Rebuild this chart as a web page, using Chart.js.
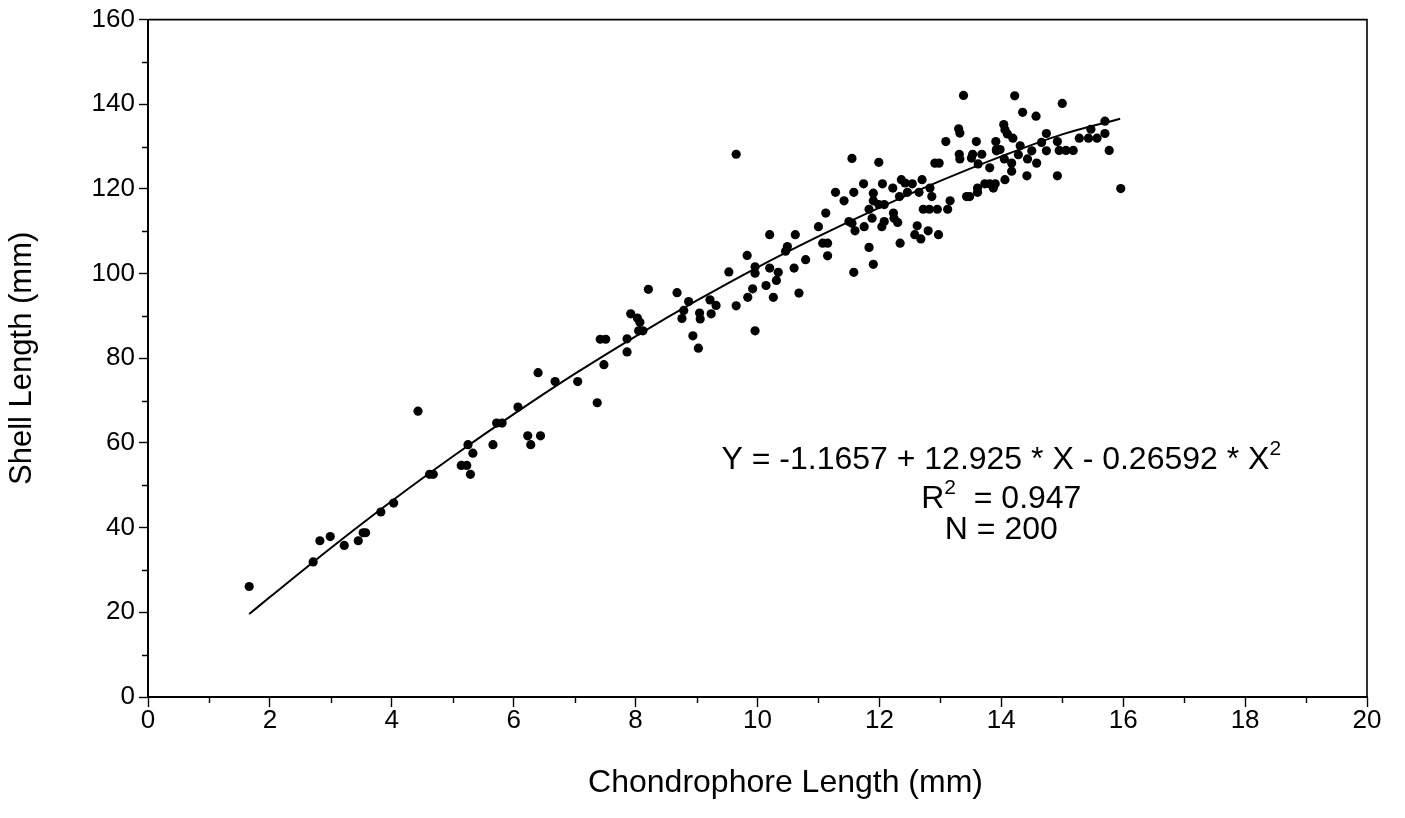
<!DOCTYPE html>
<html>
<head>
<meta charset="utf-8">
<script src="https://cdn.jsdelivr.net/npm/chart.js@4.4.1/dist/chart.umd.min.js"></script>
<style>
  html, body { margin: 0; padding: 0; background: #fff; }
  #wrap { width: 1405px; height: 818px; position: relative; }
</style>
</head>
<body>
<div id="wrap"><canvas id="c" width="1405" height="818"></canvas></div>
<script>
// ---- data ----
const chondrophoreX = [
  1.66, 2.71, 2.82, 2.99, 3.22, 3.45, 3.53, 3.57, 3.82, 4.03,
  4.43, 4.62, 4.68, 5.14, 5.23, 5.25, 5.29, 5.33, 5.66, 5.72,
  5.81, 6.07, 6.23, 6.44, 6.28, 6.40, 6.68, 7.05, 7.37, 7.48,
  7.42, 7.51, 7.86, 7.86, 7.92, 8.03, 8.07, 8.05, 8.12, 8.21,
  8.68, 8.76, 8.79, 8.87, 8.94, 9.03, 9.05, 9.06, 9.22, 9.24,
  9.32, 9.53, 9.65, 9.65, 9.83, 9.84, 9.92, 9.96, 9.96, 9.96,
  10.14, 10.20, 10.20, 10.26, 10.31, 10.34, 10.46, 10.49, 10.60, 10.62,
  10.68, 10.79, 11.00, 11.07, 11.15, 11.15, 11.12, 11.28, 11.42, 11.50,
  11.55, 11.55, 11.58, 11.60, 11.58, 11.74, 11.75, 11.83, 11.83, 11.90,
  11.90, 11.90, 11.88, 11.99, 12.05, 12.04, 11.99, 12.08, 12.08, 12.22,
  12.23, 12.24, 12.30, 12.34, 12.33, 12.36, 12.42, 12.46, 12.54, 12.62,
  12.58, 12.65, 12.68, 12.70, 12.72, 12.82, 12.95, 12.80, 12.83, 12.86,
  12.97, 12.91, 12.98, 13.12, 13.16, 13.31, 13.32, 13.43, 13.48, 13.51,
  13.53, 13.61, 13.61, 13.68, 13.62, 13.73, 13.81, 13.90, 13.87, 13.81,
  13.92, 14.05, 14.06, 14.17, 14.17, 14.28, 14.43, 14.42, 14.50, 14.58,
  14.74, 14.22, 14.35, 14.57, 15.00, 14.04, 14.06, 14.10, 14.19, 13.98,
  14.31, 14.66, 14.74, 14.92, 14.92, 14.95, 15.06, 15.18, 15.28, 15.43,
  15.57, 15.47, 15.70, 15.70, 15.77, 15.96, 13.38, 13.30, 13.32, 13.09,
  13.59, 13.91, 13.92
];
const shellY = [
  26.1, 31.9, 36.9, 37.9, 35.8, 36.9, 38.8, 38.8, 43.7, 45.8,
  67.5, 52.6, 52.6, 54.7, 54.7, 59.6, 52.6, 57.6, 59.6, 64.7,
  64.7, 68.5, 61.7, 61.7, 59.6, 76.6, 74.5, 74.5, 69.5, 78.5,
  84.5, 84.5, 81.5, 84.6, 90.5, 89.5, 88.5, 86.5, 86.5, 96.3,
  95.5, 89.4, 91.3, 93.4, 85.3, 82.4, 90.7, 89.3, 93.8, 90.5,
  92.5, 100.4, 92.4, 128.2, 104.3, 94.4, 96.4, 101.6, 100.1, 86.5,
  97.2, 101.3, 109.2, 94.4, 98.4, 100.3, 105.3, 106.4, 101.3, 109.2,
  95.4, 103.3, 111.1, 107.2, 107.2, 104.2, 114.3, 119.2, 117.2, 112.3,
  111.9, 127.2, 119.2, 110.1, 100.3, 121.2, 111.1, 106.2, 115.2, 119.0,
  117.2, 102.2, 113.1, 126.3, 121.2, 111.1, 116.3, 116.3, 112.3, 120.2,
  114.3, 113.1, 112.1, 107.2, 118.2, 122.2, 121.4, 119.2, 121.2, 111.3,
  109.2, 119.2, 108.2, 122.2, 115.2, 115.2, 115.2, 110.1, 120.2, 118.2,
  109.2, 126.1, 126.1, 115.2, 117.2, 128.2, 127.1, 118.2, 118.2, 127.3,
  128.2, 120.2, 119.2, 128.2, 125.9, 121.2, 121.2, 121.2, 120.2, 125.0,
  129.0, 127.1, 122.2, 124.2, 126.1, 128.1, 127.1, 123.1, 129.0, 126.1,
  129.0, 142.0, 138.1, 137.2, 140.2, 135.2, 134.0, 133.0, 132.0, 129.3,
  130.2, 131.0, 133.1, 123.1, 131.2, 129.1, 129.1, 129.1, 132.0, 132.0,
  132.0, 134.1, 136.0, 133.1, 129.1, 120.1, 142.1, 134.2, 133.2, 131.2,
  131.2, 131.2, 129.3
];
// fitted curve, sampled along the drawn line
const fitX = [1.66, 2, 3, 4, 5, 6, 7, 8, 9, 10, 11, 12, 13, 14, 15, 15.95];
const fitY = [19.6, 23.6, 35.2, 46.3, 56.8, 66.8, 76.3, 85.2, 93.6, 101.5, 108.8, 115.6, 121.9, 127.7, 132.9, 136.6];

const xMajor = [0, 2, 4, 6, 8, 10, 12, 14, 16, 18, 20];
const xMinor = [1, 3, 5, 7, 9, 11, 13, 15, 17, 19];
const yMajor = [0, 20, 40, 60, 80, 100, 120, 140, 160];
const yMinor = [10, 30, 50, 70, 90, 110, 130, 150];

const xTitle = 'Chondrophore Length (mm)';
const yTitle = 'Shell Length (mm)';
const eqText = 'Y = -1.1657 + 12.925 * X - 0.26592 * X';
const r2Text = '  = 0.947';
const nText = 'N = 200';

const FONT = '"Liberation Sans", Arial, Helvetica, sans-serif';

const scatterPts = chondrophoreX.map((x, i) => ({ x: x, y: shellY[i] }));
const fitPts = fitX.map((x, i) => ({ x: x, y: fitY[i] }));

const extras = {
  id: 'extras',
  afterDraw(chart) {
    const { ctx, chartArea: a, scales: { x, y } } = chart;
    ctx.save();
    ctx.strokeStyle = '#000';
    ctx.lineWidth = 1.6;
    ctx.beginPath();
    ctx.moveTo(a.left, a.top);
    ctx.lineTo(a.right, a.top);
    ctx.lineTo(a.right, a.bottom);
    ctx.stroke();
    ctx.lineWidth = 1.4;
    ctx.beginPath();
    xMinor.forEach(v => {
      const px = Math.round(x.getPixelForValue(v)) + 0.5;
      ctx.moveTo(px, a.bottom); ctx.lineTo(px, a.bottom + 6);
    });
    yMinor.forEach(v => {
      const py = Math.round(y.getPixelForValue(v)) + 0.5;
      ctx.moveTo(a.left, py); ctx.lineTo(a.left - 6, py);
    });
    ctx.stroke();

    // x-axis title (sits right of centre in the reference)
    ctx.fillStyle = '#000';
    ctx.font = '32px ' + FONT;
    ctx.textAlign = 'center';
    ctx.textBaseline = 'middle';
    ctx.fillText(xTitle, a.left + (a.right - a.left) * 0.523, a.bottom + 86);

    // regression annotation
    ctx.textBaseline = 'alphabetic';
    const cx = x.getPixelForValue(14.0);
    const big = '32px ' + FONT, small = '21px ' + FONT;
    function drawSup(parts, baseY) {
      let total = 0;
      parts.forEach(p => { ctx.font = p.sup ? small : big; p.w = ctx.measureText(p.t).width; total += p.w; });
      let xx = cx - total / 2;
      parts.forEach(p => {
        ctx.font = p.sup ? small : big;
        ctx.textAlign = 'left';
        ctx.fillText(p.t, xx, p.sup ? baseY - 14 : baseY);
        xx += p.w;
      });
    }
    drawSup([{ t: eqText }, { t: '2', sup: true }], y.getPixelForValue(53.8));
    drawSup([{ t: 'R' }, { t: '2', sup: true }, { t: r2Text }], y.getPixelForValue(44.6));
    drawSup([{ t: nText }], y.getPixelForValue(37.4));
    ctx.restore();
  }
};

new Chart(document.getElementById('c'), {
  type: 'scatter',
  data: {
    datasets: [
      {
        label: 'data',
        data: scatterPts,
        backgroundColor: '#000',
        borderWidth: 0,
        pointRadius: 4.6,
        pointHoverRadius: 4.6
      },
      {
        label: 'fit',
        type: 'line',
        data: fitPts,
        borderColor: '#000',
        borderWidth: 2,
        pointRadius: 0,
        fill: false,
        cubicInterpolationMode: 'monotone'
      }
    ]
  },
  options: {
    responsive: false,
    animation: false,
    events: [],
    layout: { padding: { left: 0, top: 17, right: 38, bottom: 15 } },
    plugins: { legend: { display: false }, tooltip: { enabled: false } },
    scales: {
      x: {
        type: 'linear', min: 0, max: 20,
        afterFit(s) { s.height = 106; },
        afterBuildTicks(s) { s.ticks = xMajor.map(v => ({ value: v })); },
        border: { display: true, color: '#000', width: 2 },
        grid: { display: true, drawOnChartArea: false, drawTicks: true, tickLength: 10, tickColor: '#000', tickWidth: 1.4 },
        ticks: { color: '#000', font: { family: FONT, size: 26 }, padding: -2, maxRotation: 0, autoSkip: false },
        title: { display: false, text: xTitle }
      },
      y: {
        type: 'linear', min: 0, max: 160,
        afterFit(s) { s.width = 148; },
        afterBuildTicks(s) { s.ticks = yMajor.map(v => ({ value: v })); },
        border: { display: true, color: '#000', width: 2 },
        grid: { display: true, drawOnChartArea: false, drawTicks: true, tickLength: 9, tickColor: '#000', tickWidth: 1.4 },
        ticks: { color: '#000', font: { family: FONT, size: 26 }, padding: 4, autoSkip: false },
        title: { display: true, text: yTitle, color: '#000', font: { family: FONT, size: 31 }, padding: { top: 4, bottom: 4 } }
      }
    }
  },
  plugins: [extras]
});
</script>
</body>
</html>
